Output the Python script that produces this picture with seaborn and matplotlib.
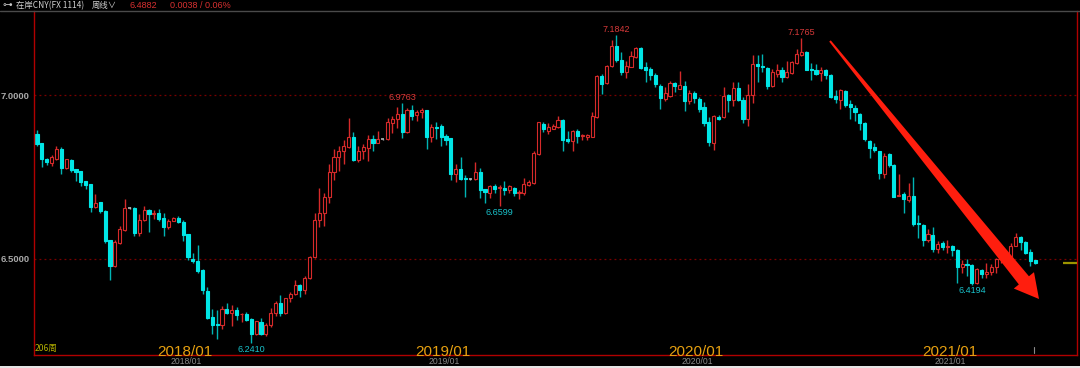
import numpy as np
import pandas as pd
import matplotlib
matplotlib.use("Agg")
import matplotlib.pyplot as plt
import matplotlib.transforms as mtrans
from matplotlib.patches import Polygon, Rectangle
from matplotlib.lines import Line2D
import seaborn as sns

# ---------------- data (weekly candles) ----------------
opens = [
    6.881, 6.853, 6.806, 6.794, 6.806, 6.835, 6.777, 6.802, 6.774, 6.767,
    6.737, 6.728, 6.659, 6.672, 6.647, 6.557, 6.477, 6.548, 6.588, 6.655,
    6.655, 6.578, 6.617, 6.649, 6.638, 6.641, 6.624, 6.598, 6.616, 6.626,
    6.611, 6.575, 6.500, 6.493, 6.465, 6.402, 6.321, 6.301, 6.297, 6.346,
    6.333, 6.344, 6.330, 6.332, 6.314, 6.271, 6.306, 6.271, 6.297, 6.333,
    6.363, 6.333, 6.379, 6.392, 6.419, 6.404, 6.441, 6.504, 6.619, 6.641,
    6.690, 6.764, 6.810, 6.830, 6.842, 6.873, 6.802, 6.830, 6.838, 6.865,
    6.854, 6.865, 6.865, 6.915, 6.929, 6.942, 6.888, 6.954, 6.941, 6.948,
    6.954, 6.873, 6.903, 6.905, 6.876, 6.868, 6.759, 6.775, 6.746, 6.744,
    6.743, 6.766, 6.712, 6.702, 6.721, 6.715, 6.716, 6.710, 6.715, 6.700,
    6.702, 6.724, 6.731, 6.820, 6.912, 6.891, 6.898, 6.903, 6.924, 6.867,
    6.861, 6.892, 6.875, 6.873, 6.873, 6.934, 7.060, 7.038, 7.089, 7.152,
    7.109, 7.071, 7.088, 7.117, 7.145, 7.086, 7.079, 7.061, 7.030, 6.988,
    6.998, 7.038, 7.020, 7.027, 6.983, 7.007, 6.990, 6.964, 6.919, 6.853,
    6.934, 6.934, 7.000, 6.985, 7.023, 6.987, 6.926, 7.002, 7.095, 7.090,
    7.083, 7.028, 7.064, 7.078, 7.056, 7.068, 7.099, 7.122, 7.132, 7.079,
    7.076, 7.068, 7.076, 7.061, 6.997, 6.987, 7.013, 6.973, 6.962, 6.944,
    6.916, 6.861, 6.842, 6.829, 6.760, 6.820, 6.786, 6.693, 6.698, 6.680,
    6.692, 6.609, 6.604, 6.556, 6.573, 6.530, 6.548, 6.536, 6.540, 6.528,
    6.475, 6.485, 6.482, 6.426, 6.466, 6.454, 6.458, 6.476, 6.498, 6.506,
    6.503, 6.540, 6.565, 6.551, 6.520, 6.496]

highs = [
    6.895, 6.855, 6.808, 6.817, 6.845, 6.842, 6.806, 6.806, 6.776, 6.769,
    6.739, 6.729, 6.697, 6.673, 6.649, 6.558, 6.558, 6.601, 6.683, 6.657,
    6.657, 6.637, 6.662, 6.651, 6.648, 6.652, 6.640, 6.620, 6.628, 6.630,
    6.617, 6.577, 6.516, 6.542, 6.467, 6.413, 6.346, 6.342, 6.354, 6.364,
    6.359, 6.352, 6.334, 6.337, 6.318, 6.310, 6.319, 6.304, 6.349, 6.372,
    6.388, 6.381, 6.399, 6.435, 6.423, 6.446, 6.509, 6.641, 6.715, 6.702,
    6.790, 6.837, 6.846, 6.864, 6.931, 6.888, 6.845, 6.850, 6.880, 6.880,
    6.891, 6.867, 6.931, 6.936, 6.963, 6.9763, 6.960, 6.969, 6.955, 6.960,
    6.956, 6.913, 6.918, 6.912, 6.881, 6.870, 6.790, 6.810, 6.756, 6.746,
    6.796, 6.779, 6.714, 6.726, 6.729, 6.726, 6.738, 6.724, 6.720, 6.710,
    6.748, 6.741, 6.830, 6.919, 6.918, 6.915, 6.913, 6.936, 6.929, 6.891,
    6.893, 6.898, 6.883, 6.883, 6.949, 7.062, 7.066, 7.093, 7.168, 7.1842,
    7.132, 7.105, 7.137, 7.147, 7.147, 7.102, 7.086, 7.068, 7.036, 7.025,
    7.043, 7.041, 7.074, 7.043, 7.015, 7.013, 6.995, 6.980, 6.934, 6.939,
    6.939, 7.025, 7.005, 7.041, 7.041, 6.995, 7.034, 7.122, 7.122, 7.127,
    7.086, 7.081, 7.096, 7.086, 7.105, 7.105, 7.142, 7.1765, 7.135, 7.098,
    7.097, 7.086, 7.081, 7.066, 7.017, 7.020, 7.015, 6.985, 6.970, 6.947,
    6.919, 6.863, 6.854, 6.831, 6.824, 6.824, 6.791, 6.758, 6.705, 6.731,
    6.749, 6.634, 6.607, 6.591, 6.598, 6.553, 6.553, 6.557, 6.543, 6.530,
    6.495, 6.500, 6.484, 6.471, 6.468, 6.486, 6.483, 6.503, 6.512, 6.515,
    6.548, 6.580, 6.568, 6.553, 6.530, 6.497]

lows = [
    6.845, 6.782, 6.787, 6.784, 6.802, 6.759, 6.775, 6.765, 6.739, 6.723,
    6.712, 6.644, 6.656, 6.641, 6.547, 6.436, 6.474, 6.544, 6.586, 6.653,
    6.568, 6.568, 6.615, 6.583, 6.620, 6.614, 6.570, 6.592, 6.614, 6.609,
    6.553, 6.496, 6.486, 6.457, 6.391, 6.314, 6.269, 6.253, 6.284, 6.330,
    6.293, 6.313, 6.306, 6.309, 6.241, 6.268, 6.265, 6.263, 6.292, 6.325,
    6.325, 6.331, 6.366, 6.389, 6.383, 6.392, 6.438, 6.502, 6.598, 6.600,
    6.670, 6.740, 6.768, 6.790, 6.840, 6.800, 6.795, 6.806, 6.800, 6.830,
    6.853, 6.863, 6.862, 6.885, 6.900, 6.870, 6.885, 6.925, 6.920, 6.930,
    6.837, 6.858, 6.865, 6.845, 6.847, 6.740, 6.735, 6.742, 6.690, 6.742,
    6.742, 6.687, 6.670, 6.685, 6.700, 6.6599, 6.694, 6.700, 6.692, 6.683,
    6.695, 6.722, 6.729, 6.817, 6.888, 6.881, 6.896, 6.901, 6.830, 6.853,
    6.830, 6.853, 6.863, 6.863, 6.871, 6.932, 7.005, 7.036, 7.086, 7.102,
    7.061, 7.054, 7.087, 7.115, 7.081, 7.041, 7.046, 7.025, 6.959, 6.983,
    6.995, 7.010, 7.020, 6.952, 6.973, 6.975, 6.949, 6.905, 6.845, 6.833,
    6.924, 6.932, 6.949, 6.966, 6.982, 6.916, 6.905, 6.977, 7.041, 7.071,
    7.020, 7.026, 7.056, 7.041, 7.054, 7.066, 7.097, 7.120, 7.076, 7.046,
    7.061, 7.043, 7.051, 6.993, 6.976, 6.959, 6.965, 6.929, 6.921, 6.894,
    6.861, 6.807, 6.827, 6.743, 6.748, 6.781, 6.688, 6.692, 6.639, 6.675,
    6.599, 6.563, 6.538, 6.550, 6.522, 6.517, 6.527, 6.517, 6.507, 6.426,
    6.455, 6.446, 6.4194, 6.424, 6.441, 6.441, 6.451, 6.455, 6.488, 6.492,
    6.500, 6.538, 6.527, 6.513, 6.479, 6.485]

closes = [
    6.851, 6.806, 6.796, 6.810, 6.835, 6.777, 6.804, 6.771, 6.765, 6.735,
    6.725, 6.659, 6.671, 6.645, 6.555, 6.477, 6.551, 6.590, 6.654, 6.655,
    6.578, 6.617, 6.649, 6.636, 6.641, 6.622, 6.598, 6.614, 6.626, 6.611,
    6.574, 6.504, 6.493, 6.463, 6.404, 6.319, 6.297, 6.298, 6.346, 6.334,
    6.344, 6.329, 6.332, 6.311, 6.271, 6.309, 6.271, 6.297, 6.333, 6.363,
    6.333, 6.379, 6.392, 6.419, 6.404, 6.441, 6.506, 6.619, 6.639, 6.690,
    6.764, 6.810, 6.830, 6.845, 6.873, 6.802, 6.830, 6.842, 6.865, 6.854,
    6.865, 6.865, 6.919, 6.929, 6.942, 6.888, 6.954, 6.937, 6.948, 6.956,
    6.873, 6.903, 6.899, 6.873, 6.864, 6.759, 6.776, 6.744, 6.744, 6.744,
    6.766, 6.710, 6.704, 6.721, 6.712, 6.718, 6.710, 6.721, 6.700, 6.704,
    6.728, 6.736, 6.822, 6.917, 6.896, 6.903, 6.905, 6.924, 6.863, 6.859,
    6.891, 6.875, 6.878, 6.878, 6.936, 7.058, 7.036, 7.091, 7.152, 7.109,
    7.071, 7.089, 7.119, 7.145, 7.083, 7.076, 7.061, 7.034, 6.993, 7.008,
    7.038, 7.028, 7.033, 6.983, 7.007, 6.993, 6.959, 6.916, 6.856, 6.936,
    6.926, 6.998, 6.985, 7.023, 6.987, 6.926, 7.002, 7.095, 7.090, 7.086,
    7.028, 7.071, 7.078, 7.056, 7.071, 7.102, 7.125, 7.133, 7.078, 7.076,
    7.066, 7.076, 7.063, 6.995, 6.988, 7.015, 6.970, 6.964, 6.949, 6.916,
    6.865, 6.840, 6.832, 6.763, 6.814, 6.788, 6.690, 6.695, 6.683, 6.692,
    6.607, 6.605, 6.558, 6.575, 6.530, 6.545, 6.536, 6.540, 6.526, 6.475,
    6.485, 6.481, 6.426, 6.468, 6.453, 6.458, 6.476, 6.498, 6.506, 6.503,
    6.540, 6.565, 6.550, 6.518, 6.494, 6.4882]

week_dates = pd.date_range("2017-06-05", periods=len(closes), freq="7D")
marked_highs = [6.9763, 7.1842, 7.1765]
marked_lows = [6.2410, 6.6599, 6.4194]
y_ticks = [6.5, 7.0]
title_name = "在岸CNY(FX 1114)"
period_label = "周线"
last_price = "6.4882"
last_change = "0.0038 / 0.06%"
bar_count_label = "206周"

# ---------------- style ----------------
sns.set_theme(style="dark", rc={"axes.facecolor": "black", "figure.facecolor": "black",
                                "savefig.facecolor": "black"})
plt.rcParams["font.family"] = ["Liberation Sans", "Noto Sans CJK SC", "DejaVu Sans"]

UP = "#d62a2a"
DOWN = "#00e6e6"
DOWN_WICK = "#00b4b4"
DOJI = "#b4b4b4"
FRAME = "#b00000"

W, H = 1080, 368
fig = plt.figure(figsize=(W / 100, H / 100), dpi=100)
ax = fig.add_axes([34 / W, 1 - 355 / H, (1077 - 34) / W, (355 - 11) / H])
ax.set_facecolor("black")
ax.grid(False)

df = pd.DataFrame({"date": week_dates, "open": opens, "high": highs,
                   "low": lows, "close": closes})
df["x"] = np.arange(len(df))
o, h, l, c, x = (df[k].to_numpy() for k in ["open", "high", "low", "close", "x"])
up = c > o
down = c < o
flat = c == o

wick_cols = np.where(up, UP, np.where(down, DOWN_WICK, DOJI))
ax.vlines(x, l, h, colors=wick_cols, lw=1.0, zorder=1)

bw = 0.64
bottoms = np.minimum(o, c)
heights = np.abs(c - o)
ax.bar(x[up], heights[up], bottom=bottoms[up], width=bw, facecolor="black",
       edgecolor=UP, linewidth=0.8, zorder=2)
ax.bar(x[down], heights[down], bottom=bottoms[down], width=bw, facecolor=DOWN,
       edgecolor=DOWN, linewidth=0.8, zorder=2)
ax.hlines(c[flat], x[flat] - bw / 2, x[flat] + bw / 2, colors=DOJI, lw=1.2, zorder=2)

# dotted grid lines
for v in y_ticks:
    ax.axhline(v, color="#7a0000", lw=0.9, ls=(0, (1.5, 2.5)), zorder=0)

ax.set_xlim(-0.62, 213.6)
ax.set_ylim(6.2053, 7.258)
ax.set_yticks(y_ticks)
ax.set_yticklabels([f"{v:.4f}" for v in y_ticks])
ax.tick_params(axis="y", length=0, pad=3, labelsize=6.8, labelcolor="#a8a8a8")
for t in ax.get_yticklabels():
    t.set_fontweight("bold")
ax.set_xticks([])
for side in ["left", "right", "bottom"]:
    ax.spines[side].set_color(FRAME)
    ax.spines[side].set_linewidth(1.0)
    ax.spines[side].set_visible(True)
ax.spines["top"].set_visible(False)

# high/low annotations
for v in marked_highs:
    i = int(np.argmin(np.abs(h - v)))
    ax.annotate(f"{v:.4f}", xy=(x[i], h[i]), xytext=(0, 4), textcoords="offset points",
                ha="center", va="center", fontsize=6.5, color="#d83a3a")
for v in marked_lows:
    i = int(np.argmin(np.abs(l - v)))
    ax.annotate(f"{v:.4f}", xy=(x[i], l[i]), xytext=(0, -4.2), textcoords="offset points",
                ha="center", va="center", fontsize=6.5, color="#19c3cc",
                annotation_clip=False)

# current price marker
blend_ax = mtrans.blended_transform_factory(ax.transAxes, ax.transData)
ax.plot([0.987, 1.0], [c[-1], c[-1]], transform=blend_ax, color="#9c9400", lw=1.6,
        solid_capstyle="butt", zorder=3)
blend_xfig = mtrans.blended_transform_factory(ax.transData, fig.transFigure)
ax.plot([x[-1] - 0.3, x[-1] - 0.3], [1 - 353 / H, 1 - 347 / H], transform=blend_xfig,
        color="#8a8a8a", lw=0.8, clip_on=False)

# year labels
years = df[(df["date"].dt.month == 1)].groupby(df["date"].dt.year).head(1)
for _, r in years.iterrows():
    lab = r["date"].strftime("%Y/%m")
    ax.text(r["x"] + 0.4, 1 - 352 / H, lab, transform=blend_xfig, ha="center",
            va="center", fontsize=11, color="#e6a010", clip_on=False, zorder=5)
    ax.text(r["x"] + 0.6, 1 - 362 / H, lab, transform=blend_xfig, ha="center",
            va="center", fontsize=6.2, color="#8a8a8a", clip_on=False, zorder=5)

cjk = ["Noto Sans CJK SC", "DejaVu Sans"]
fig.text(35 / W, 1 - 348.5 / H, bar_count_label, color="#b4b000", fontsize=6.2,
         va="center", ha="left", family=cjk)

# header
fig.add_artist(Line2D([0, 1], [1 - 11 / H, 1 - 11 / H], transform=fig.transFigure,
                      color="#4a4a4a", lw=1.0))
fig.text(2 / W, 1 - 5.5 / H, "⊶", color="#c8c8c8", fontsize=7, va="center",
         family=["DejaVu Sans"])
fig.text(16 / W, 1 - 5.5 / H, title_name, color="#d0d0d0", fontsize=6, va="center",
         family=cjk)
fig.text(92 / W, 1 - 5.5 / H, period_label + "∨", color="#d0d0d0", fontsize=6,
         va="center", family=cjk)
fig.text(130 / W, 1 - 5.5 / H, last_price, color="#d83030", fontsize=6.5, va="center")
fig.text(170 / W, 1 - 5.5 / H, last_change, color="#d83030", fontsize=6.5, va="center")

# bottom light strip
fig.add_artist(Rectangle((0, 0), 1, 2 / H, transform=fig.transFigure,
                         facecolor="#e4e4e4", edgecolor="none"))

# big red arrow (annotation drawn in pixel space)
S = np.array([830.0, 41.0])
T = np.array([1039.0, 299.0])
u = (T - S) / np.linalg.norm(T - S)
n = np.array([u[1], -u[0]])
B = T - 24 * u
pts = [S + n * 1.0, B + n * 6.5, B + n * 13.0, T, B - n * 13.0, B - n * 6.5, S - n * 1.0]
pts = [(p[0] / W, 1 - p[1] / H) for p in pts]
fig.add_artist(Polygon(pts, closed=True, transform=fig.transFigure,
                       facecolor="#ff1e0e", edgecolor="none", zorder=10))

fig.savefig("out.png", dpi=100, facecolor="black")
